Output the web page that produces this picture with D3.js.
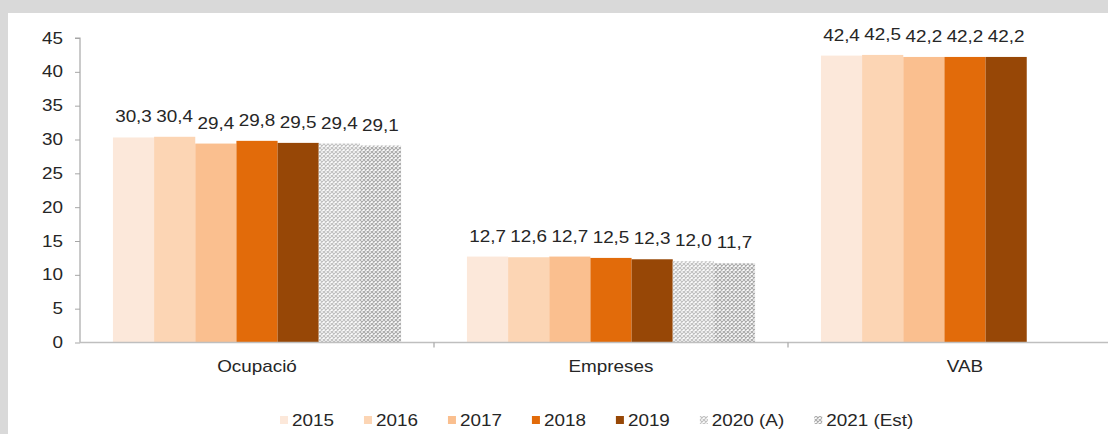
<!DOCTYPE html>
<html>
<head>
<meta charset="utf-8">
<script src="https://cdn.jsdelivr.net/npm/d3@7"></script>
<style>
  html, body { margin: 0; padding: 0; background: #d9d9d9; }
  svg { display: block; }
  text { font-family: "Liberation Sans", Arial, sans-serif; }
</style>
</head>
<body>
<svg id="chart"></svg>
<script>
// ---- Data ----
const categories = ["Ocupació", "Empreses", "VAB"];
const seriesNames = ["2015", "2016", "2017", "2018", "2019", "2020 (A)", "2021 (Est)"];
const v2015 = [30.3, 12.7, 42.4];
const v2016 = [30.4, 12.6, 42.5];
const v2017 = [29.4, 12.7, 42.2];
const v2018 = [29.8, 12.5, 42.2];
const v2019 = [29.5, 12.3, 42.2];
const v2020 = [29.4, 12.0, null];
const v2021 = [29.1, 11.7, null];
const seriesValues = [v2015, v2016, v2017, v2018, v2019, v2020, v2021];
const yTicks = [0, 5, 10, 15, 20, 25, 30, 35, 40, 45];

// ---- Styles ----
const colors = ["#FCE8DA", "#FCD5B4", "#FABF8F", "#E26B0A", "#974706", "url(#pat2020)", "url(#pat2021)"];
const FS = "16px";

const W = 1108, H = 434;
const SX = 1.18;                  // horizontal stretch of the picture
const VW = W / SX;
const px = v => v / SX;          // pixel x -> design x

const svg = d3.select("#chart")
  .attr("width", W).attr("height", H)
  .attr("viewBox", `0 0 ${VW} ${H}`)
  .attr("preserveAspectRatio", "none");

const defs = svg.append("defs");
function makePattern(id, color) {
  const pw = px(4);
  const p = defs.append("pattern").attr("id", id)
    .attr("patternUnits", "userSpaceOnUse").attr("width", pw).attr("height", 4);
  p.append("rect").attr("width", pw).attr("height", 4).attr("fill", "#ffffff");
  p.append("path").attr("d", `M0,0L${pw},4M${pw},0L0,4`)
    .attr("stroke", color).attr("stroke-width", 0.9).attr("fill", "none");
}
makePattern("pat2020", "#bdbdbd");
makePattern("pat2021", "#a6a6a6");

// background
svg.append("rect").attr("x", 0).attr("y", 0).attr("width", VW).attr("height", H).attr("fill", "#d9d9d9");
svg.append("rect").attr("x", px(8)).attr("y", 13).attr("width", VW).attr("height", H).attr("fill", "#ffffff");

// scales
const x0 = d3.scaleBand().domain(categories).range([px(80), px(1142)]).paddingInner(0).paddingOuter(0);
const x1 = d3.scaleBand().domain(seriesNames).range([0, x0.bandwidth()]).paddingInner(0).paddingOuter(0.8);
const y = d3.scaleLinear().domain([0, 45]).range([342.5, 38]);

// y axis
const yAxis = d3.axisLeft(y).tickValues(yTicks).tickFormat(d3.format("d"))
  .tickSize(px(5)).tickPadding(px(12));
const gy = svg.append("g").attr("transform", `translate(${px(80)},0)`).call(yAxis);
gy.select(".domain").attr("stroke", "#a6a6a6").attr("d", `M${-px(5)},${y(45)}H0V${y(0)}`);
gy.selectAll(".tick line").attr("stroke", "#a6a6a6");
gy.selectAll(".tick text").attr("fill", "#262626").style("font-size", FS);

// bars
const groups = svg.append("g").selectAll("g").data(seriesNames).join("g");
groups.each(function(s, si) {
  const g = d3.select(this);
  categories.forEach((c, ci) => {
    const v = seriesValues[si][ci];
    if (v === null) return;
    const bx = x0(c) + x1(s);
    g.append("rect")
      .attr("x", bx).attr("y", y(v))
      .attr("width", x1.bandwidth()).attr("height", y(0) - y(v))
      .attr("fill", colors[si]);
    g.append("text")
      .attr("x", bx + x1.bandwidth() / 2).attr("y", y(v) - 15)
      .attr("text-anchor", "middle").attr("fill", "#262626")
      .style("font-size", FS)
      .text(d3.format(".1f")(v).replace(".", ","));
  });
});

// x axis
const gx = svg.append("g");
gx.append("line").attr("x1", px(80)).attr("x2", x0.range()[1]).attr("y1", y(0)).attr("y2", y(0))
  .attr("stroke", "#bfbfbf").attr("stroke-width", 1.5);
categories.forEach(c => {
  gx.append("line").attr("x1", x0(c) + x0.bandwidth()).attr("x2", x0(c) + x0.bandwidth())
    .attr("y1", y(0)).attr("y2", y(0) + 5).attr("stroke", "#a6a6a6");
  gx.append("text").attr("x", x0(c) + x0.bandwidth() / 2).attr("y", 372)
    .attr("text-anchor", "middle").attr("fill", "#262626").style("font-size", FS).text(c);
});

// legend
const legend = svg.append("g");
let lx = px(280);
seriesNames.forEach((s, si) => {
  legend.append("rect").attr("x", lx).attr("y", 416).attr("width", px(8)).attr("height", 8)
    .attr("fill", colors[si]);
  const t = legend.append("text").attr("x", lx + px(12)).attr("y", 426)
    .attr("fill", "#262626").style("font-size", FS).text(s);
  lx += px(12) + t.node().getComputedTextLength() + px(30);
});
</script>
</body>
</html>
